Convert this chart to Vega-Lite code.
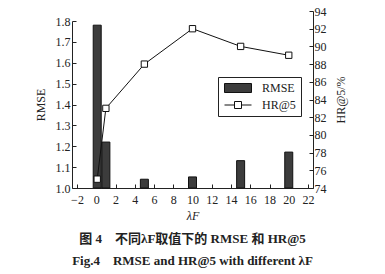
{
  "$schema": "https://vega.github.io/schema/vega-lite/v6.json",
  "autosize": "none",
  "width": 241,
  "height": 177,
  "padding": {"left": 72, "top": 11, "right": 72, "bottom": 86},
  "background": "white",
  "config": {
    "font": "Liberation Serif",
    "view": {"stroke": null},
    "axis": {
      "labelFont": "Liberation Serif",
      "titleFont": "Liberation Serif",
      "labelFontSize": 12,
      "titleFontSize": 12,
      "labelColor": "#222",
      "titleColor": "#222",
      "titleFontWeight": "normal",
      "domainColor": "#222",
      "tickColor": "#222",
      "grid": false,
      "tickSize": -4,
      "labelOverlap": false,
      "labelPadding": 5
    },
    "legend": {
      "orient": "none",
      "legendX": 146,
      "legendY": 66,
      "strokeColor": "#222",
      "fillColor": "white",
      "padding": 5,
      "labelFont": "Liberation Serif",
      "labelFontSize": 12,
      "labelColor": "#222",
      "symbolSize": 100,
      "symbolOffset": 9,
      "labelOffset": 18,
      "rowPadding": 4
    }
  },
  "data": {
    "values": [
      {"lambda": 0.1, "rmse": 1.78, "hr": 75},
      {"lambda": 1, "rmse": 1.22, "hr": 83},
      {"lambda": 5, "rmse": 1.042, "hr": 88},
      {"lambda": 10, "rmse": 1.053, "hr": 92},
      {"lambda": 15, "rmse": 1.131, "hr": 90},
      {"lambda": 20, "rmse": 1.172, "hr": 89}
    ]
  },
  "title": {
    "text": "图 4　不同λF取值下的 RMSE 和 HR@5",
    "subtitle": "Fig.4　RMSE and HR@5 with different λF",
    "orient": "bottom",
    "anchor": "middle",
    "font": "Liberation Serif, Noto Sans CJK SC",
    "fontSize": 13,
    "fontWeight": "bold",
    "color": "#222",
    "subtitleFont": "Liberation Serif, Noto Sans CJK SC",
    "subtitleFontSize": 13,
    "subtitleFontWeight": "bold",
    "subtitleColor": "#222",
    "subtitlePadding": 9,
    "offset": 12
  },
  "encoding": {
    "x": {
      "field": "lambda",
      "type": "quantitative",
      "scale": {"domain": [-2, 22], "nice": false, "zero": false},
      "axis": {"values": [-2, 0, 2, 4, 6, 8, 10, 12, 14, 16, 18, 20, 22], "labelOverlap": false, "title": "λF", "labelPadding": 10, "titlePadding": 5, "titleFontStyle": "italic"}
    }
  },
  "layer": [
    {
      "mark": {"type": "bar", "size": 8, "stroke": "#111", "strokeWidth": 1},
      "encoding": {
        "y": {
          "field": "rmse",
          "type": "quantitative",
          "scale": {"domain": [1.0, 1.8], "range": [177, 10], "nice": false, "zero": false},
          "axis": {"values": [1.0, 1.1, 1.2, 1.3, 1.4, 1.5, 1.6, 1.7, 1.8], "labelOverlap": false, "format": ".1f", "title": "RMSE", "labelPadding": 6, "titlePadding": 8}
        },
        "y2": {"datum": 1.0},
        "color": {
          "datum": "RMSE",
          "type": "nominal",
          "scale": {"domain": ["RMSE", "HR@5"], "range": ["#3c3c3c", "white"]},
          "legend": {
            "title": null,
            "symbolType": {"expr": "datum.value === 'RMSE' ? 'M-2.7,-0.9H2.7V0.9H-2.7Z' : 'M-2.7,0H-0.7M0.7,0H2.7M-0.7,-0.7H0.7V0.7H-0.7Z'"},
            "symbolStrokeColor": "#111",
            "symbolStrokeWidth": 1,
            "encode": {
              "symbols": {
                "update": {
                  "shape": {"signal": "datum.value === 'RMSE' ? 'M-2.7,-0.9H2.7V0.9H-2.7Z' : 'M-2.7,0H-0.7M0.7,0H2.7M-0.7,-0.7H0.7V0.7H-0.7Z'"},
                  "stroke": {"value": "#111"},
                  "strokeWidth": {"value": 1},
                  "opacity": {"value": 1},
                  "fillOpacity": {"value": 1}
                }
              }
            }
          }
        }
      }
    },
    {
      "encoding": {
        "y": {
          "field": "hr",
          "type": "quantitative",
          "scale": {"domain": [74, 94], "range": [177, 0], "nice": false, "zero": false},
          "axis": {"orient": "right", "values": [74, 76, 78, 80, 82, 84, 86, 88, 90, 92, 94], "labelOverlap": false, "title": "HR@5/%", "titleAngle": 270, "titlePadding": 21}
        }
      },
      "layer": [
        {
          "mark": {"type": "line", "stroke": "#111", "strokeWidth": 1},
          "encoding": {}
        },
        {
          "mark": {"type": "point", "shape": "square", "size": 40, "filled": true, "fill": "white", "stroke": "#111", "strokeWidth": 1, "opacity": 1},
          "encoding": {}
        }
      ]
    }
  ],
  "resolve": {"scale": {"y": "independent"}}
}
